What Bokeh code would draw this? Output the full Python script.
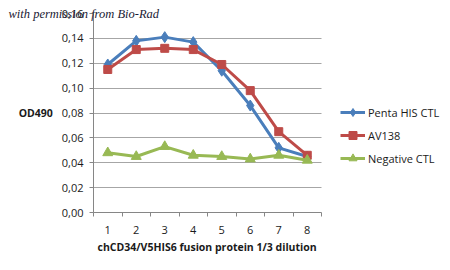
from bokeh.plotting import figure
from bokeh.models import (FixedTicker, CustomJSTickFormatter, Legend, LegendItem,
                          Range1d, Title)
from bokeh.embed import file_html
from bokeh.resources import INLINE

dilutions = [1, 2, 3, 4, 5, 6, 7, 8]
tick_labels = ["1", "2", "3", "4", "5", "6", "7", "8"]
penta_his = [0.119, 0.138, 0.141, 0.137, 0.114, 0.086, 0.052, 0.045]
av138 = [0.115, 0.131, 0.132, 0.131, 0.119, 0.098, 0.065, 0.046]
negative = [0.048, 0.045, 0.053, 0.046, 0.045, 0.043, 0.046, 0.042]
y_ticks = [0.0, 0.02, 0.04, 0.06, 0.08, 0.10, 0.12, 0.14, 0.16]

BLUE = "#4A7EBB"
RED = "#BE4B48"
GREEN = "#98B954"
FONT = "Open Sans"

LEFT = 93
PLOT_W = 228  # pixel width of the category area
FRAME_W = 450 - LEFT
x_end = 0.5 + 8 * FRAME_W / PLOT_W

p = figure(width=450, height=270, output_backend="svg", toolbar_location=None,
           x_range=Range1d(0.5, x_end), y_range=Range1d(0, 0.16),
           min_border_left=LEFT, min_border_right=0, min_border_top=13,
           min_border_bottom=58)
p.outline_line_color = None
p.background_fill_color = "white"
p.border_fill_color = "white"

# watermark as title
p.title.text = "with permission from Bio-Rad"
p.title.align = "left"
p.title.offset = -85
p.title.standoff = -15
p.title.text_font = "Liberation Serif"
p.title.text_font_style = "italic"
p.title.text_font_size = "12.5px"
p.title.text_color = "#1a1a33"

# grid
p.xgrid.visible = False
p.ygrid.ticker = FixedTicker(ticks=y_ticks[1:])
p.ygrid.grid_line_color = "#A6A6A6"
p.ygrid.grid_line_width = 1
p.ygrid.cross_bounds = (0.5, 8.5)

# x axis
xa = p.xaxis[0]
xa.bounds = (0.5, 8.5)
xa.ticker = FixedTicker(ticks=dilutions, minor_ticks=[i + 0.5 for i in range(0, 9)])
xa.major_label_overrides = {d: t for d, t in zip(dilutions, tick_labels)}
xa.major_tick_out = 0
xa.major_tick_in = 0
xa.minor_tick_out = 4
xa.minor_tick_in = 0
xa.minor_tick_line_color = "#868686"
xa.axis_line_color = "#868686"
xa.major_label_standoff = 9
xa.major_label_text_font = FONT
xa.major_label_text_font_size = "11px"
xa.major_label_text_color = "#1a1a1a"

xlabel = Title(text="chCD34/V5HIS6 fusion protein 1/3 dilution", align="left",
               offset=4, standoff=2, text_font=FONT, text_font_style="bold",
               text_font_size="10.5px", text_color="#1a1a1a")
p.add_layout(xlabel, "below")

# y axis
ya = p.yaxis[0]
ya.ticker = FixedTicker(ticks=y_ticks)
ya.formatter = CustomJSTickFormatter(code="return tick.toFixed(2).replace('.', ',');")
ya.major_tick_out = 4
ya.major_tick_in = 0
ya.minor_tick_line_color = None
ya.major_tick_line_color = "#868686"
ya.axis_line_color = "#868686"
ya.major_label_standoff = 6
ya.major_label_text_font = FONT
ya.major_label_text_font_size = "11px"
ya.major_label_text_color = "#1a1a1a"
ya.axis_label = "OD490"
ya.axis_label_orientation = "horizontal"
ya.axis_label_text_font = FONT
ya.axis_label_text_font_style = "bold"
ya.axis_label_text_font_size = "10.5px"
ya.axis_label_text_color = "#1a1a1a"
ya.axis_label_standoff = 6

# series
l1 = p.line(dilutions, penta_his, line_color=BLUE, line_width=3)
m1 = p.scatter(dilutions, penta_his, marker="diamond", size=11, fill_color=BLUE,
               line_color=BLUE)
l2 = p.line(dilutions, av138, line_color=RED, line_width=3)
m2 = p.scatter(dilutions, av138, marker="square", size=8, fill_color=RED,
               line_color=RED)
l3 = p.line(dilutions, negative, line_color=GREEN, line_width=3)
m3 = p.scatter(dilutions, negative, marker="triangle", size=10, fill_color=GREEN,
               line_color=GREEN)

legend = Legend(items=[
    LegendItem(label="Penta HIS CTL", renderers=[l1, m1]),
    LegendItem(label="AV138", renderers=[l2, m2]),
    LegendItem(label="Negative CTL", renderers=[l3, m3]),
], location=(247, 44), glyph_width=25, glyph_height=20, label_height=20,
    spacing=3, padding=0, margin=0, label_standoff=3,
    label_text_font=FONT, label_text_font_size="11px", label_text_color="#1a1a1a",
    border_line_color=None, background_fill_alpha=0)
p.add_layout(legend, "center")

open("out.html", "w").write(file_html(p, INLINE))
